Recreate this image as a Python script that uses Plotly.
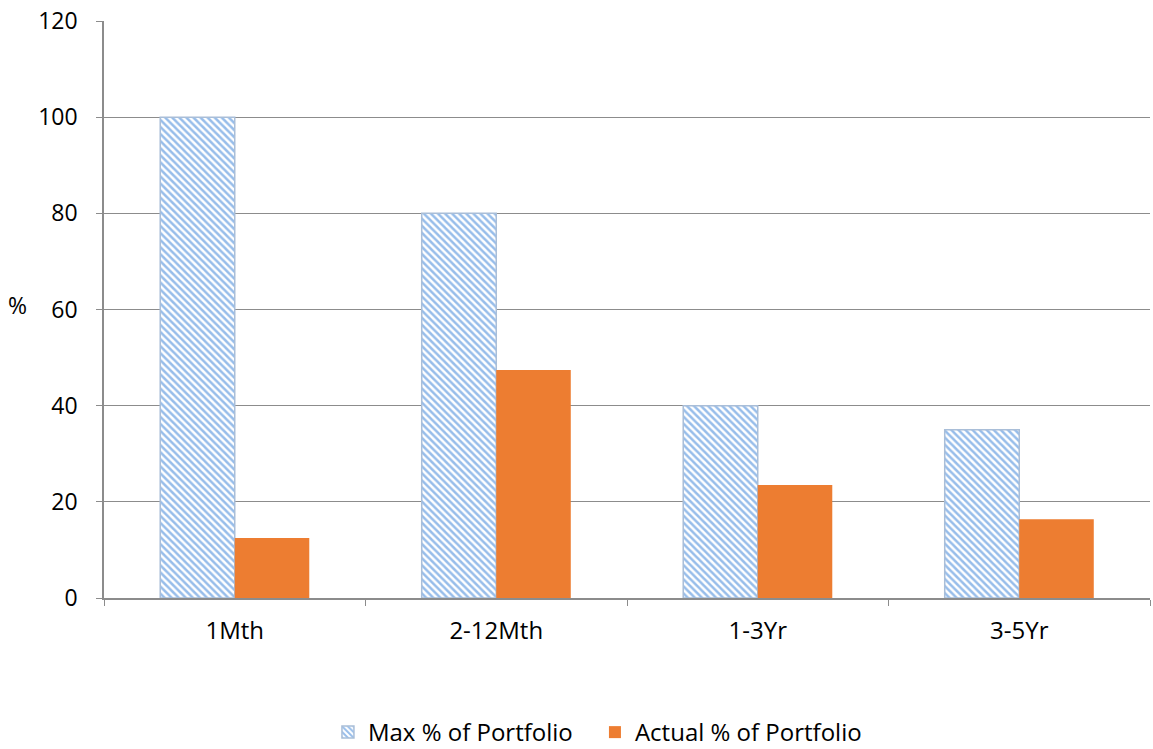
import plotly.graph_objects as go

categories = ["1Mth", "2-12Mth", "1-3Yr", "3-5Yr"]
max_pct = [100, 80, 40, 35]
actual_pct = [12.5, 47.4, 23.5, 16.4]
y_ticks = [0, 20, 40, 60, 80, 100, 120]

FONT = "Open Sans"

fig = go.Figure()
fig.add_trace(go.Bar(
    x=categories, y=max_pct, name="Max % of Portfolio",
    marker=dict(
        color="white",
        line=dict(color="#A9BED8", width=1.5),
        pattern=dict(shape="\\", fgcolor="#2F7BD6", bgcolor="white", size=5, solidity=0.5),
    ),
))
fig.add_trace(go.Bar(
    x=categories, y=actual_pct, name="Actual % of Portfolio",
    marker=dict(color="#ED7D31", line=dict(width=0)),
))

fig.update_layout(
    width=1153, height=749,
    margin=dict(l=104, r=3, t=21, b=151, autoexpand=False),
    plot_bgcolor="white", paper_bgcolor="white",
    barmode="group", bargap=0.43, bargroupgap=0,
    font=dict(family=FONT, size=23, color="black"),
    showlegend=True,
    legend=dict(orientation="h", x=0.516, xanchor="center", xref="container",
                y=0.022, yanchor="middle", yref="container",
                font=dict(size=24), itemwidth=30, entrywidth=222,
                traceorder="normal", tracegroupgap=0),
    annotations=[dict(text="%", xref="x domain", x=-0.083, y=61, yref="y", showarrow=False,
                      xanchor="center", yanchor="middle", font=dict(size=23))],
)
fig.update_xaxes(
    showline=True, linecolor="#8C8C8C", linewidth=1.5,
    ticks="outside", tickson="boundaries", ticklen=6, tickcolor="#8C8C8C",
    showgrid=False, tickfont=dict(size=24), ticklabelstandoff=10,
)
fig.update_yaxes(
    range=[0, 120], tickvals=y_ticks,
    showline=True, linecolor="#8C8C8C", linewidth=1.5,
    ticks="outside", ticklen=6, tickcolor="#8C8C8C",
    showgrid=True, gridcolor="#8C8C8C", gridwidth=1,
    zeroline=False, tickfont=dict(size=23), ticklabelstandoff=14,
    ticklabeloverflow="allow",
)

fig.write_html("out.html", config={"displayModeBar": False},
               post_script="document.body.style.margin='0';")
